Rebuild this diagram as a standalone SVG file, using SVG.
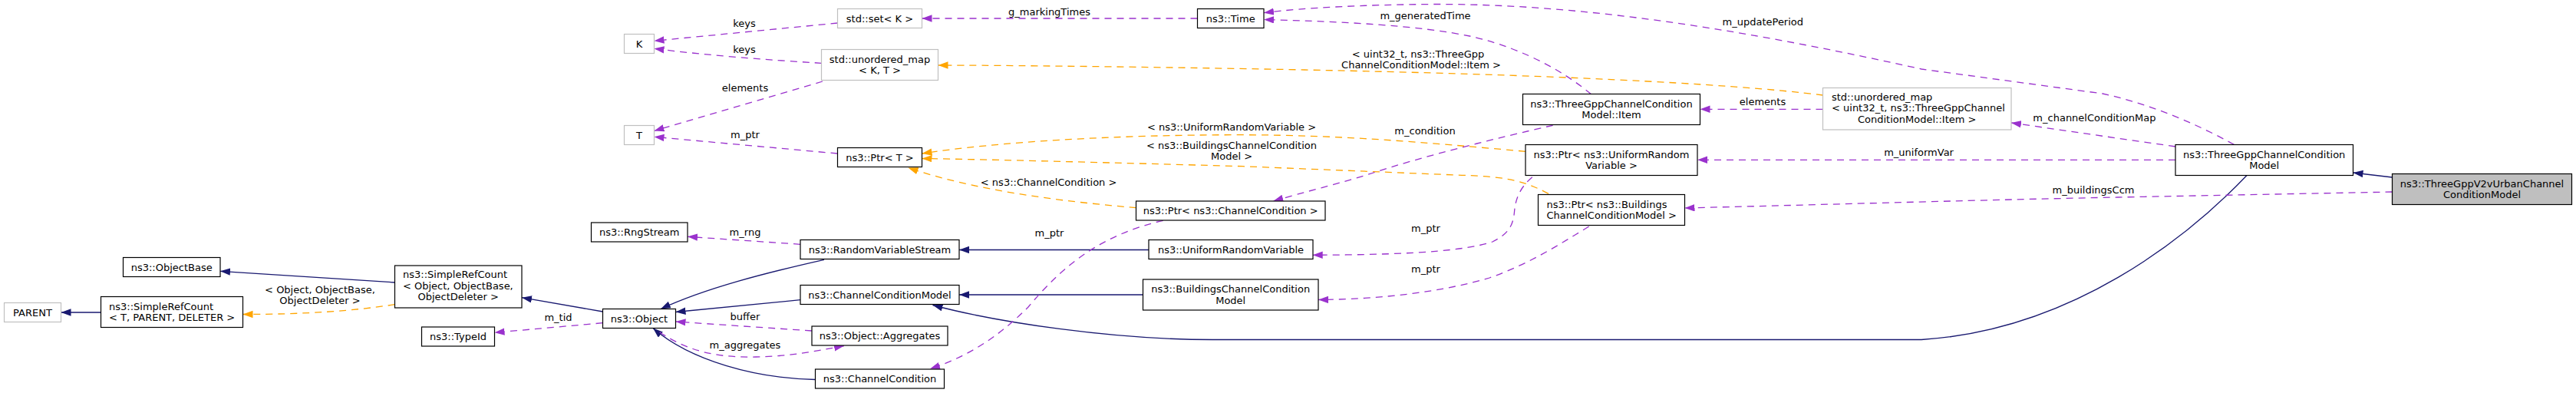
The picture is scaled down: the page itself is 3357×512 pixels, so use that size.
<svg xmlns="http://www.w3.org/2000/svg" width="3357" height="512" viewBox="0 0 3357 512">
<style>
text{font-family:"DejaVu Sans","Liberation Sans",sans-serif;font-size:13px;fill:#000}
.n rect{fill:#fff;stroke:#000;stroke-width:1.2}
.g rect{fill:#fff;stroke:#bfbfbf;stroke-width:1.2}
.h rect{fill:#bfbfbf;stroke:#000;stroke-width:1.2}
.c{text-anchor:middle}
.inh{fill:none;stroke:#191970;stroke-width:1.3;marker-end:url(#an)}
.use{fill:none;stroke:#9a32cd;stroke-width:1.3;stroke-dasharray:9,7;marker-end:url(#ap)}
.tpl{fill:none;stroke:#ffa500;stroke-width:1.3;stroke-dasharray:9,7;marker-end:url(#ao)}
</style>
<defs>
<marker id="an" markerUnits="userSpaceOnUse" markerWidth="14" markerHeight="10" refX="13" refY="4.7" orient="auto"><path d="M0,0 L13,4.7 L0,9.4 Z" fill="#191970"/></marker>
<marker id="ap" markerUnits="userSpaceOnUse" markerWidth="14" markerHeight="10" refX="13" refY="4.7" orient="auto"><path d="M0,0 L13,4.7 L0,9.4 Z" fill="#9a32cd"/></marker>
<marker id="ao" markerUnits="userSpaceOnUse" markerWidth="14" markerHeight="10" refX="13" refY="4.7" orient="auto"><path d="M0,0 L13,4.7 L0,9.4 Z" fill="#ffa500"/></marker>
</defs>
<rect width="3357" height="512" fill="#fff"/>
<g id="connectors">
<path class="inh" d="M131.5,407 L79.5,407"/>
<path class="inh" d="M514.5,368 L287,353.3"/>
<path class="inh" d="M785.5,406 L680,387.7"/>
<path class="inh" d="M1074,338.3 C1000,355 920,375 861,402.5"/>
<path class="inh" d="M1043,390.7 L880.5,406.5"/>
<path class="inh" d="M1062.5,494.5 C985,493 900,470 851,427.5"/>
<path class="inh" d="M1497,325.5 L1250,325.5"/>
<path class="inh" d="M1489.5,384 L1250,384"/>
<path class="inh" d="M2928,228.5 C2850,310 2700,430 2504,442.5 L1580,442.5 C1450,442.5 1300,420 1215.5,397.5"/>
<path class="inh" d="M3117.5,231 L3066.5,225"/>
<path class="tpl" d="M514.5,396.7 C460,405 400,409.5 316.5,409.5"/>
<text class="c" x="417" y="382">&lt; Object, ObjectBase,</text>
<text class="c" x="417" y="395.5">ObjectDeleter &gt;</text>
<path class="tpl" d="M2375.5,124 C2250,108 2000,97 1700,91 C1500,87 1300,85 1222.5,85"/>
<text class="c" x="1848" y="75">&lt; uint32_t, ns3::ThreeGpp</text>
<text class="c" x="1852" y="89.3">ChannelConditionModel::Item &gt;</text>
<path class="tpl" d="M1988,197.3 C1850,185 1750,176 1620,175.7 C1450,175.5 1300,185 1201.5,200"/>
<text class="c" x="1605" y="170">&lt; ns3::UniformRandomVariable &gt;</text>
<path class="tpl" d="M2018,252.3 C1990,238 1970,230 1905,228.3 L1620,216.7 C1450,212 1300,208 1201.5,206.5"/>
<text class="c" x="1605" y="194.3">&lt; ns3::BuildingsChannelCondition</text>
<text class="c" x="1605" y="208.3">Model &gt;</text>
<path class="tpl" d="M1480.5,270.7 C1380,262 1270,248 1183.5,218.5"/>
<text class="c" x="1366.6" y="242.3">&lt; ns3::ChannelCondition &gt;</text>
<path class="use" d="M1091.5,30 L852.5,53.3"/>
<text class="c" x="970" y="35">keys</text>
<path class="use" d="M1070.5,82.3 C1000,78 920,72 852.5,63.3"/>
<text class="c" x="970" y="68.5">keys</text>
<path class="use" d="M1072,106 L852.5,170.5"/>
<text class="c" x="971" y="118.5">elements</text>
<path class="use" d="M1091.5,200 L852.5,178.3"/>
<text class="c" x="971" y="180">m_ptr</text>
<path class="use" d="M1560.5,24 L1201.5,24"/>
<text class="c" x="1367.5" y="20">g_markingTimes</text>
<path class="use" d="M1043,318.3 L896,308.3"/>
<text class="c" x="971" y="306.5">m_rng</text>
<path class="use" d="M785.5,420.7 L644.5,433.3"/>
<text class="c" x="727.5" y="418.3">m_tid</text>
<path class="use" d="M1058,431 L880.5,419"/>
<text class="c" x="971" y="417.3">buffer</text>
<path class="use" d="M859.6,432.7 C900,460 940,466 985,465 C1030,464 1060,458 1100,450.5"/>
<text class="c" x="971" y="454">m_aggregates</text>
<path class="use" d="M1515.7,287.3 C1440,305 1390,340 1340,400 C1300,440 1260,465 1212,480.5"/>
<text class="c" x="1367.5" y="308.3">m_ptr</text>
<path class="use" d="M2073.6,122.7 C2040,95 1990,65 1920,48 C1850,33 1750,28 1647,25.5"/>
<text class="c" x="1857.5" y="25">m_generatedTime</text>
<path class="use" d="M2911.3,188.3 C2860,160 2800,135 2740,122 L2504,90 C2300,45 2080,5 1870,5.5 C1780,6 1700,10 1647,16.7"/>
<text class="c" x="2297.3" y="33.3">m_updatePeriod</text>
<path class="use" d="M2023.6,163.3 C1950,180 1850,205 1790,225 C1750,238 1700,250 1659.3,262"/>
<text class="c" x="1857" y="175">m_condition</text>
<path class="use" d="M2375.5,142.3 L2215.5,142.3"/>
<text class="c" x="2297" y="137.3">elements</text>
<path class="use" d="M2835,191 L2621,160"/>
<text class="c" x="2729.4" y="158.3">m_channelConditionMap</text>
<path class="use" d="M2835,208.3 L2212,208.3"/>
<text class="c" x="2500.6" y="203.3">m_uniformVar</text>
<path class="use" d="M1996.8,230.7 C1980,245 1975,260 1973.6,275 C1972,295 1965,305 1945,315 C1900,330 1800,332 1710.7,332.3"/>
<text class="c" x="1858" y="301.7">m_ptr</text>
<path class="use" d="M2070.7,295 C2030,320 1990,345 1941,362 C1880,380 1800,390 1718,390.5"/>
<text class="c" x="1858" y="355">m_ptr</text>
<path class="use" d="M3117.5,250 L2760,257 C2600,260 2400,266 2195.5,271"/>
<text class="c" x="2728" y="251.7">m_buildingsCcm</text>
</g>
<g id="PARENT" class="g"><rect x="5.5" y="394.5" width="74" height="25"/><text class="c" x="42.5" y="411.5">PARENT</text></g>
<g id="SimpleRefCountT" class="n"><rect x="131.5" y="386.5" width="185" height="40"/><text x="142" y="403.5">ns3::SimpleRefCount</text><text x="142" y="418">&lt; T, PARENT, DELETER &gt;</text></g>
<g id="ObjectBase" class="n"><rect x="160.5" y="335.5" width="126.5" height="25"/><text class="c" x="223.7" y="352.5">ns3::ObjectBase</text></g>
<g id="SimpleRefCountObject" class="n"><rect x="514.5" y="346" width="165.5" height="55"/><text x="525" y="362">ns3::SimpleRefCount</text><text x="525" y="376.5">&lt; Object, ObjectBase,</text><text class="c" x="597.2" y="391">ObjectDeleter &gt;</text></g>
<g id="TypeId" class="n"><rect x="549.5" y="426" width="95" height="25"/><text class="c" x="597" y="443">ns3::TypeId</text></g>
<g id="Object" class="n"><rect x="785.5" y="402.5" width="95" height="25"/><text class="c" x="833" y="419.5">ns3::Object</text></g>
<g id="RngStream" class="n"><rect x="770.5" y="290" width="125.5" height="25"/><text class="c" x="833.2" y="307">ns3::RngStream</text></g>
<g id="K" class="g"><rect x="813.5" y="44.5" width="39" height="25"/><text class="c" x="833" y="61.5">K</text></g>
<g id="T" class="g"><rect x="813.5" y="163.5" width="39" height="25"/><text class="c" x="833" y="180.5">T</text></g>
<g id="StdSetK" class="g"><rect x="1091.5" y="11.5" width="110" height="25"/><text class="c" x="1146.5" y="28.5">std::set&lt; K &gt;</text></g>
<g id="UnorderedMapKT" class="g"><rect x="1070.5" y="64.5" width="152" height="40"/><text class="c" x="1146.5" y="81.5">std::unordered_map</text><text class="c" x="1146.5" y="96">&lt; K, T &gt;</text></g>
<g id="PtrT" class="n"><rect x="1091.5" y="192.5" width="110" height="25"/><text class="c" x="1146.5" y="209.5">ns3::Ptr&lt; T &gt;</text></g>
<g id="RandomVariableStream" class="n"><rect x="1043" y="312.5" width="207" height="25"/><text class="c" x="1146.5" y="329.5">ns3::RandomVariableStream</text></g>
<g id="ChannelConditionModel" class="n"><rect x="1043" y="371.5" width="207" height="25"/><text class="c" x="1146.5" y="388.5">ns3::ChannelConditionModel</text></g>
<g id="Aggregates" class="n"><rect x="1058" y="425" width="177" height="25"/><text class="c" x="1146.5" y="442">ns3::Object::Aggregates</text></g>
<g id="ChannelCondition" class="n"><rect x="1062.5" y="481" width="168" height="25"/><text class="c" x="1146.5" y="498">ns3::ChannelCondition</text></g>
<g id="Time" class="n"><rect x="1560.5" y="11.5" width="86.5" height="25"/><text class="c" x="1603.7" y="28.5">ns3::Time</text></g>
<g id="PtrChannelCondition" class="n"><rect x="1480.5" y="262" width="246.5" height="25"/><text class="c" x="1603.7" y="279">ns3::Ptr&lt; ns3::ChannelCondition &gt;</text></g>
<g id="UniformRandomVariable" class="n"><rect x="1497" y="312.5" width="214" height="25"/><text class="c" x="1604" y="329.5">ns3::UniformRandomVariable</text></g>
<g id="BuildingsChannelConditionModel" class="n"><rect x="1489.5" y="364" width="228.5" height="40"/><text class="c" x="1603.7" y="381">ns3::BuildingsChannelCondition</text><text class="c" x="1603.7" y="395.5">Model</text></g>
<g id="Item" class="n"><rect x="1984.5" y="122.5" width="231" height="40"/><text class="c" x="2100" y="139.5">ns3::ThreeGppChannelCondition</text><text class="c" x="2100" y="154">Model::Item</text></g>
<g id="PtrUniformRandomVariable" class="n"><rect x="1988" y="188.5" width="224" height="40"/><text class="c" x="2100" y="205.5">ns3::Ptr&lt; ns3::UniformRandom</text><text class="c" x="2100" y="220">Variable &gt;</text></g>
<g id="PtrBuildingsCCM" class="n"><rect x="2004.5" y="253.5" width="191" height="40"/><text x="2015.5" y="270.5">ns3::Ptr&lt; ns3::Buildings</text><text x="2015.5" y="285">ChannelConditionModel &gt;</text></g>
<g id="UnorderedMapItem" class="g"><rect x="2375.5" y="114.5" width="245.5" height="54.5"/><text x="2387" y="130.5">std::unordered_map</text><text x="2387" y="145">&lt; uint32_t, ns3::ThreeGppChannel</text><text class="c" x="2498.2" y="159.5">ConditionModel::Item &gt;</text></g>
<g id="ThreeGppChannelConditionModel" class="n"><rect x="2835" y="188.5" width="231.5" height="40"/><text class="c" x="2950.7" y="205.5">ns3::ThreeGppChannelCondition</text><text class="c" x="2950.7" y="220">Model</text></g>
<g id="ThreeGppV2vUrbanChannelConditionModel" class="h"><rect x="3117.5" y="226.5" width="234" height="40"/><text class="c" x="3234.5" y="243.5">ns3::ThreeGppV2vUrbanChannel</text><text class="c" x="3234.5" y="258">ConditionModel</text></g>
</svg>
